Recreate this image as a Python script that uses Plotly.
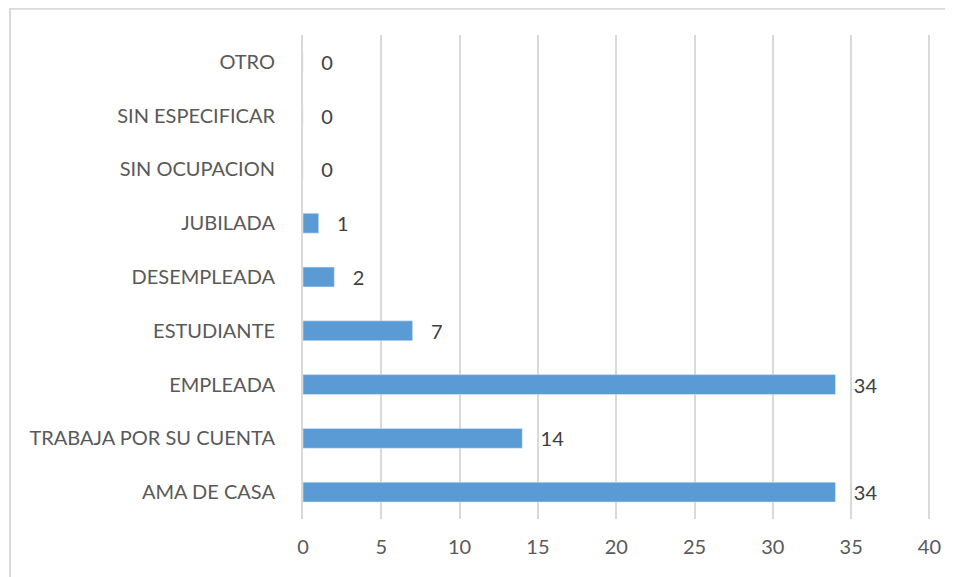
import plotly.graph_objects as go

# categories listed bottom to top, as drawn
categorias = ["AMA DE CASA", "TRABAJA POR SU CUENTA", "EMPLEADA", "ESTUDIANTE",
              "DESEMPLEADA", "JUBILADA", "SIN OCUPACION", "SIN ESPECIFICAR", "OTRO"]
valores = [34, 14, 34, 7, 2, 1, 0, 0, 0]
ticks_x = [0, 5, 10, 15, 20, 25, 30, 35, 40]

fig = go.Figure(go.Bar(
    x=valores,
    y=categorias,
    orientation="h",
    marker=dict(color="#5B9BD5"),
    text=valores,
    texttemplate="   %{x}",
    textposition="outside",
    constraintext="none",
    textfont=dict(size=20, color="#404040"),
    cliponaxis=False,
))

fig.update_layout(
    width=945,
    height=569,
    margin=dict(l=295, r=14, t=27, b=58),
    paper_bgcolor="white",
    plot_bgcolor="white",
    bargap=0.63,
    showlegend=False,
    font=dict(family="Lato, Open Sans, sans-serif", size=20, color="#595959"),
    xaxis=dict(
        range=[0, 40.1],
        tickvals=ticks_x,
        showgrid=True,
        gridcolor="#d9d9d9",
        gridwidth=2,
        zeroline=False,
        showline=False,
        ticks="",
        ticklabelstandoff=14,
        tickfont=dict(size=20, color="#595959"),
    ),
    yaxis=dict(
        categoryorder="array",
        categoryarray=categorias,
        showline=True,
        linecolor="#d9d9d9",
        linewidth=2,
        showgrid=False,
        ticks="",
        ticklabelstandoff=22,
        tickfont=dict(size=20, color="#595959"),
    ),
    shapes=[dict(
        type="rect", xref="paper", yref="paper",
        x0=-0.4665, x1=1.2, y0=-0.5, y1=1.054,
        line=dict(color="#d9d9d9", width=2),
        fillcolor="rgba(0,0,0,0)",
        layer="below",
    )],
)

fig.write_html("out.html")
